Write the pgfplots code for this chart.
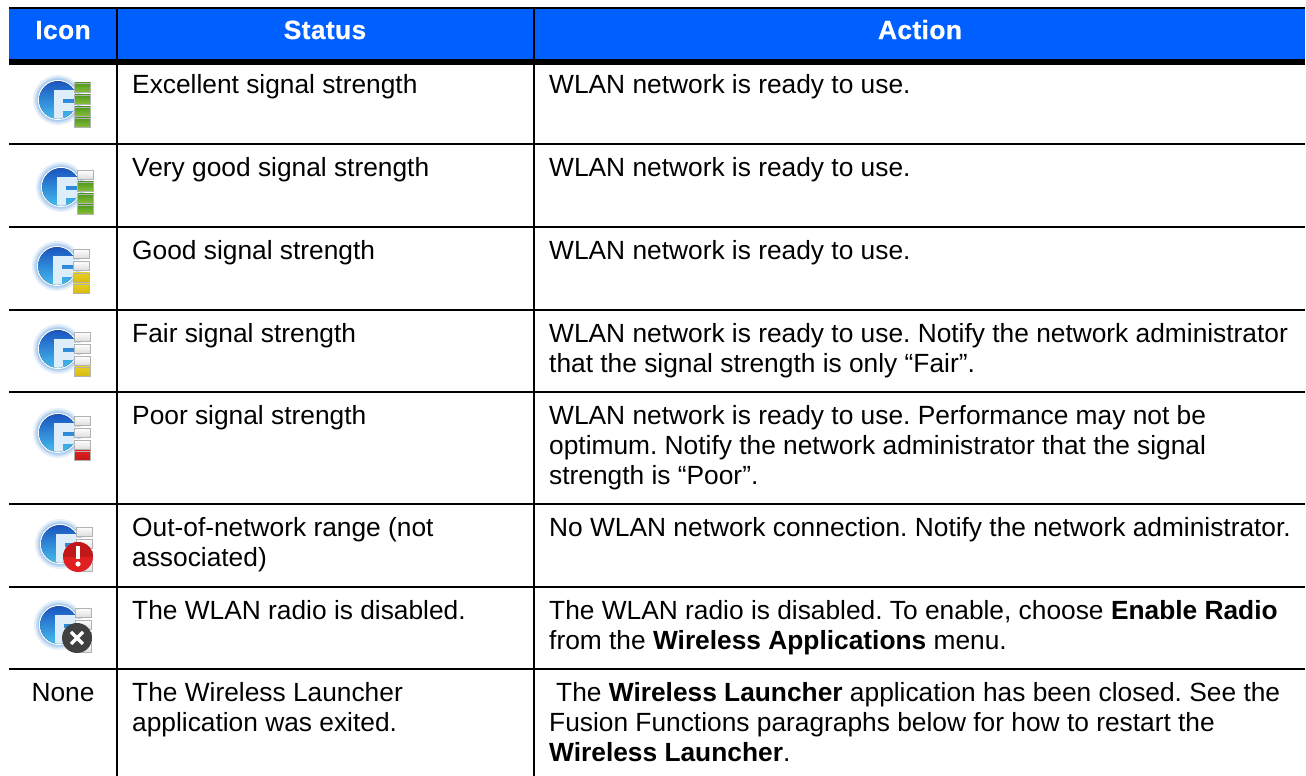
\documentclass[border=0pt]{standalone}
\usepackage{fontspec}
\setmainfont{Liberation Sans}
\newfontface\hf{Liberation Sans Bold}[FakeBold=0.6,LetterSpace=1.5]
\usepackage{pgfplots}
\pgfplotsset{compat=1.18}
\definecolor{hdr}{HTML}{0060FF}
\definecolor{halo}{HTML}{A9CBF0}
\definecolor{gtop}{HTML}{1A55C0}
\definecolor{gbot}{HTML}{45BCEE}
\definecolor{fcol}{HTML}{DDEEFA}
\definecolor{gd}{HTML}{8CBF3C}
\definecolor{gl}{HTML}{4E9A1E}
\definecolor{yd}{HTML}{E6D020}
\definecolor{yl}{HTML}{D8B810}
\definecolor{rd}{HTML}{E02020}
\definecolor{rl}{HTML}{C01818}
\definecolor{wd}{HTML}{FFFFFF}
\definecolor{wl}{HTML}{DCDCDC}
\newcommand\fs{\fontsize{26.32bp}{30bp}\selectfont}
\newcommand\cell[3]{\node[anchor=base west,inner sep=0pt,font=\fs,text=black] at (axis cs:#1,#2) {#3};}
\newcommand\globe[2]{%
 \fill[halo!30] (#1,#2) circle (25);
 \fill[halo!65] (#1,#2) circle (23);
 \fill[halo] (#1,#2) circle (21.5);
 \fill[white] (#1,#2) circle (20);
 \begin{scope}
 \clip (#1,#2) circle (18.8);
 \fill[top color=gtop,bottom color=gbot] (#1-19,#2-19) rectangle (#1+19,#2+19);
 \fill[fcol] (#1-4,#2-10) rectangle (#1+19,#2-1);
 \fill[fcol] (#1-4,#2+3) rectangle (#1+19,#2+11);
 \fill[fcol] (#1-4,#2-10) rectangle (#1+5,#2+20);
 \end{scope}}
\begin{document}
\frenchspacing
\begin{tikzpicture}
\begin{axis}[
  at={(0,0)},anchor=south west,
  x=1bp,y=1bp,disabledatascaling,
  xmin=0,xmax=1306,ymin=0,ymax=776,y dir=reverse,
  hide axis,clip=false]
\addplot[draw=none,fill=white,forget plot] coordinates {(0,0)(1306,0)(1306,776)(0,776)} -- cycle;
\addplot[draw=none,fill=hdr,forget plot] coordinates {(9,8)(1305,8)(1305,60)(9,60)} -- cycle;
% rules
\addplot[black,line width=2pt,forget plot] coordinates {(9,8)(1305,8)};
\addplot[black,line width=6pt,forget plot] coordinates {(9,62)(1305,62)};
\addplot[black,line width=2pt,forget plot] coordinates {(9,144)(1305,144)};
\addplot[black,line width=2pt,forget plot] coordinates {(9,227)(1305,227)};
\addplot[black,line width=2pt,forget plot] coordinates {(9,310)(1305,310)};
\addplot[black,line width=2pt,forget plot] coordinates {(9,392)(1305,392)};
\addplot[black,line width=2pt,forget plot] coordinates {(9,504)(1305,504)};
\addplot[black,line width=2pt,forget plot] coordinates {(9,587)(1305,587)};
\addplot[black,line width=2pt,forget plot] coordinates {(9,669)(1305,669)};
\addplot[black,line width=2pt,forget plot] coordinates {(117,8)(117,776)};
\addplot[black,line width=2pt,forget plot] coordinates {(534,8)(534,776)};
% header
\node[anchor=base,inner sep=0pt,font=\fs\hf,text=white] at (axis cs:63,39) {Icon};
\node[anchor=base,inner sep=0pt,font=\fs\hf,text=white] at (axis cs:325,39) {Status};
\node[anchor=base,inner sep=0pt,font=\fs\hf,text=white] at (axis cs:920,39) {Action};
% status column
\cell{132}{93}{Excellent signal strength}
\cell{132}{176}{Very good signal strength}
\cell{132}{259}{Good signal strength}
\cell{132}{342}{Fair signal strength}
\cell{132}{424}{Poor signal strength}
\cell{132}{536}{Out-of-network range (not}
\cell{132}{566}{associated)}
\cell{132}{619}{The WLAN radio is disabled.}
\cell{132}{701}{The Wireless Launcher}
\cell{132}{731}{application was exited.}
% action column
\cell{549}{93}{WLAN network is ready to use.}
\cell{549}{176}{WLAN network is ready to use.}
\cell{549}{259}{WLAN network is ready to use.}
\cell{549}{342}{WLAN network is ready to use. Notify the network administrator}
\cell{549}{372}{that the signal strength is only “Fair”.}
\cell{549}{424}{WLAN network is ready to use. Performance may not be}
\cell{549}{454}{optimum. Notify the network administrator that the signal}
\cell{549}{484}{strength is “Poor”.}
\cell{549}{536}{No WLAN network connection. Notify the network administrator.}
\cell{549}{619}{The WLAN radio is disabled. To enable, choose \textbf{Enable Radio}}
\cell{549}{649}{from the \textbf{Wireless Applications} menu.}
\cell{556}{701}{The \textbf{Wireless Launcher} application has been closed. See the}
\cell{549}{731}{Fusion Functions paragraphs below for how to restart the}
\cell{549}{761}{\textbf{Wireless Launcher}.}
\node[anchor=base,inner sep=0pt,font=\fs,text=black] at (axis cs:63,701) {None};
\end{axis}
% icons, in image pixels
\begin{scope}[x=1bp,y=-1bp,yshift=776bp]
\foreach \cx/\cy/\a/\b/\c/\d in {
  58/100/gr/gr/gr/gr,
  61/187/wh/gr/gr/gr,
  57/266/wh/wh/ye/ye,
  58/349/wh/wh/wh/ye,
  58/433/wh/wh/wh/re,
  60/544/wh/wh/wh/wh,
  59/625/wh/wh/wh/wh}{
  \globe{\cx}{\cy}
  \foreach \k/\col in {-17/\a,-5/\b,7/\c,18/\d}{
    \edef\cc{\col}
    \def\tst{gr}\ifx\cc\tst \def\ct{gl}\def\cb{gd}\fi
    \def\tst{wh}\ifx\cc\tst \def\ct{wd}\def\cb{wl}\fi
    \def\tst{ye}\ifx\cc\tst \def\ct{yd}\def\cb{yl}\fi
    \def\tst{re}\ifx\cc\tst \def\ct{rd}\def\cb{rl}\fi
    \fill[top color=\ct,bottom color=\cb,draw=black!30,line width=0.7pt] (\cx+16.5,\cy+\k) rectangle (\cx+32.5,\cy+\k+9.5);
  }
}
% alert badge
\fill[rd] (78,557) circle (15);
\fill[rl] (78,557) ++(-15,0) arc (180:360:15) -- cycle;
\fill[white] (76,546) rectangle (80,559);
\fill[white] (78,564) circle (2.6);
% disabled badge
\fill[black!75] (77,638) circle (15);
\draw[white,line width=3.4pt] (71,632) -- (83,644) (83,632) -- (71,644);
\end{scope}
\pgfresetboundingbox
\path[use as bounding box] (0,0) rectangle (1306bp,776bp);
\end{tikzpicture}
\end{document}
